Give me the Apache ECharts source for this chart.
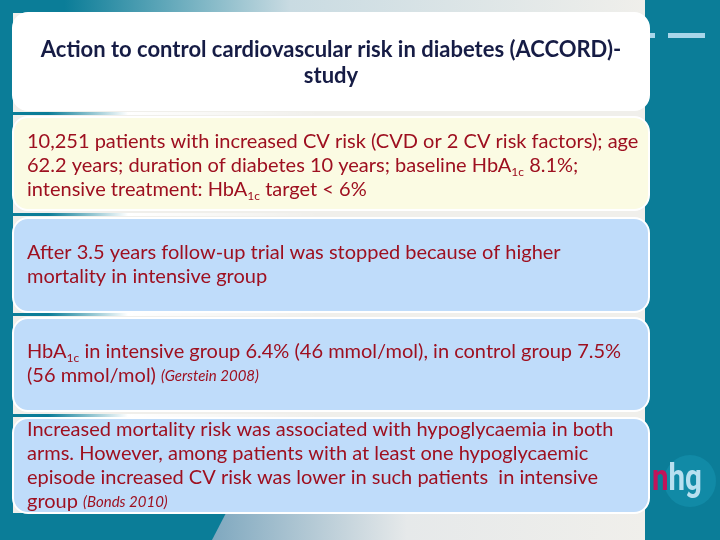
<!DOCTYPE html>
<html><head><meta charset="utf-8">
<script src="https://cdn.jsdelivr.net/npm/echarts@6/dist/echarts.min.js"></script>
<style>html,body{margin:0;padding:0;background:#0b7d98}#c{width:720px;height:540px}</style>
</head><body><div id="c"></div>
<script>
var titleLines = ['Action to control cardiovascular risk in diabetes (ACCORD)-', 'study'];
var box2Lines = ['10,251 patients with increased CV risk (CVD or 2 CV risk factors); age',
  '62.2 years; duration of diabetes 10 years; baseline HbA{sub|1c} 8.1%;',
  'intensive treatment: HbA{sub|1c} target < 6%'];
var box3Lines = ['After 3.5 years follow-up trial was stopped because of higher',
  'mortality in intensive group'];
var box4Lines = ['HbA{sub|1c} in intensive group 6.4% (46 mmol/mol), in control group 7.5%',
  '(56 mmol/mol) {it|(Gerstein 2008)}'];
var box5Lines = ['Increased mortality risk was associated with hypoglycaemia in both',
  'arms. However, among patients with at least one hypoglycaemic',
  'episode increased CV risk was lower in such patients  in intensive',
  'group {it|(Bonds 2010)}'];
var logoText = '{n|n}{hg|hg}';

var TEAL = '#0b7d98', LIGHT = '#f0efeb', RED = '#9e1020', NAVY = '#161c45';
var FONT = 'Lato';
var bodyRich = {
  sub: {fontFamily: FONT, fontSize: 12, fill: RED, verticalAlign: 'bottom', lineHeight: 24},
  it: {fontFamily: FONT, fontSize: 15, fontStyle: 'italic', fill: RED, lineHeight: 24}
};
function box(y, h, fill) {
  return {type: 'rect', shape: {x: 13, y: y, width: 636, height: h, r: 15},
    style: {fill: fill, stroke: '#ffffff', lineWidth: 2}};
}
function body(lines, x, y) {
  return {type: 'text', x: x, y: y, style: {text: lines.join('\n'), rich: bodyRich,
    fontFamily: FONT, fontSize: 20, lineHeight: 24, fill: RED, textVerticalAlign: 'top'}};
}
function sep(y) {
  return {type: 'rect', shape: {x: 0, y: y, width: 320, height: 3},
    style: {fill: {type: 'linear', x: 0, y: 0, x2: 1, y2: 0,
      colorStops: [{offset: 0, color: TEAL}, {offset: 0.15, color: TEAL}, {offset: 0.4, color: '#ffffff'}, {offset: 1, color: 'rgba(255,255,255,0)'}]}}};
}
var chart = echarts.init(document.getElementById('c'));
chart.setOption({
  backgroundColor: TEAL,
  graphic: [
    {type: 'rect', shape: {x: 13, y: 13, width: 632, height: 500}, style: {fill: LIGHT}},
    {type: 'rect', shape: {x: 0, y: 0, width: 645, height: 13},
      style: {fill: {type: 'linear', x: 0, y: 0, x2: 1, y2: 0,
        colorStops: [{offset: 0, color: TEAL}, {offset: 0.1, color: TEAL}, {offset: 0.45, color: '#c9dbe2'}, {offset: 1, color: LIGHT}]}}},
    {type: 'polygon', shape: {points: [[226, 513], [645, 513], [645, 540], [212, 540]]},
      style: {fill: {type: 'linear', x: 0, y: 0, x2: 1, y2: 0,
        colorStops: [{offset: 0, color: '#7fa8bf'}, {offset: 0.45, color: '#e6e9ea'}, {offset: 1, color: LIGHT}]}}},
    {type: 'rect', shape: {x: 650, y: 33, width: 5, height: 5}, style: {fill: '#a9d6ea'}},
    {type: 'rect', shape: {x: 668, y: 33, width: 37, height: 5}, style: {fill: '#a9d6ea'}},
    {type: 'circle', shape: {cx: 690, cy: 481, r: 26}, style: {fill: '#118aa6'}},
    {type: 'text', x: 652, y: 481, scaleX: 0.82, style: {text: logoText, textVerticalAlign: 'middle',
      rich: {n: {fontFamily: 'Roboto', fontWeight: 'bold', fontSize: 36, fill: '#c0145a'},
             hg: {fontFamily: 'Roboto', fontWeight: 'bold', fontSize: 36, fill: '#b8e0f0'}}}},
    sep(112), sep(213), sep(313), sep(414),
    box(13, 97, '#ffffff'),
    box(117, 93, '#fbfbe3'),
    box(218, 94, '#bfdcfa'),
    box(318, 93, '#bfdcfa'),
    box(418, 95, '#bfdcfa'),
    {type: 'text', x: 331, y: 37, style: {text: titleLines.join('\n'), fontFamily: FONT, fontWeight: 'bold',
      fontSize: 22, lineHeight: 26, fill: NAVY, textAlign: 'center', textVerticalAlign: 'top'}},
    body(box2Lines, 27, 130),
    body(box3Lines, 27, 241),
    body(box4Lines, 27, 340),
    body(box5Lines, 27, 418)
  ]
});
</script></body></html>
